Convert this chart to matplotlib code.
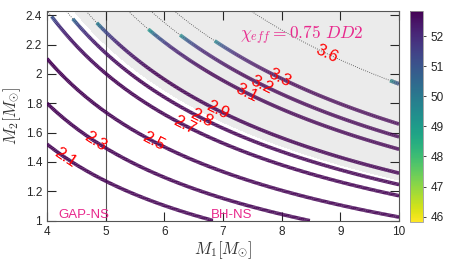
import numpy as np
import matplotlib
import matplotlib.pyplot as plt
from matplotlib.collections import LineCollection
from matplotlib.colors import Normalize

plt.rcParams["font.family"] = ["Liberation Sans", "DejaVu Sans"]
plt.rcParams["mathtext.fontset"] = "cm"

# chirp-mass levels of the curves and their labels
levels = [2.1, 2.3, 2.5, 2.7, 2.8, 2.9, 3.1, 3.2, 3.3, 3.6]
# where the coloured part of each curve stops (upper-left end), None = no stop
tip_m1 = [None, None, None, 4.08, 4.44, 4.85, 5.73, 6.27, 6.86, 9.85]
# colour value at that end
tip_val = [52.83, 52.83, 52.83, 51.0, 50.4, 49.8, 49.0, 49.3, 49.5, 49.3]
base_val = 52.83
fade_dist = [0.0, 0.12, 0.4, 1.1]
fade_frac = [0.0, 0.45, 0.8, 1.0]

# M1 position of the label on each curve
label_m1 = [4.31, 4.82, 5.81, 6.35, 6.64, 6.90, 7.41, 7.66, 7.97, 8.77]

gray_level = 2.84
vmin, vmax = 45.83, 52.83
ylim = (1.0, 2.43)


def chirp(m1, m2):
    return (m1 * m2) ** 0.6 / (m1 + m2) ** 0.2


m2f = np.linspace(0.5, 3.0, 4000)


def m2_on(L, x):
    return np.interp(L, chirp(x, m2f), m2f)


fig = plt.figure(figsize=(4.69, 2.64), dpi=100)
ax = fig.add_axes([0.1002, 0.164, 0.7505, 0.795])

g1, g2 = np.meshgrid(np.linspace(4, 10, 500), np.linspace(1, 2.45, 400))
mc = chirp(g1, g2)

ax.contourf(g1, g2, mc, levels=[gray_level, 10], colors=["#ebebeb"], zorder=0)
cs = ax.contour(g1, g2, mc, levels=levels, colors="#444444",
                linestyles=":", linewidths=0.6, zorder=1)

ax.axvline(5, color="#555555", lw=0.8, zorder=1.5)

norm = Normalize(vmin, vmax)
cmap = plt.get_cmap("viridis_r")

for L, t, tv in zip(levels, tip_m1, tip_val):
    start = 4.0 if t is None else t
    m1s = np.linspace(start, 10, 400)
    m2s = np.array([m2_on(L, x) for x in m1s])
    keep = (m2s >= 1.0) & (m2s <= ylim[1])
    m1s, m2s = m1s[keep], m2s[keep]
    s = np.concatenate([[0], np.cumsum(np.hypot(np.diff(m1s), np.diff(m2s)))])
    vals = tv + (base_val - tv) * np.interp(s, fade_dist, fade_frac)
    pts = np.column_stack([m1s, m2s]).reshape(-1, 1, 2)
    segs = np.concatenate([pts[:-1], pts[1:]], axis=1)
    lc = LineCollection(segs, cmap=cmap, norm=norm, linewidths=2.6,
                        capstyle="butt", zorder=3)
    lc.set_array(0.5 * (vals[:-1] + vals[1:]))
    ax.add_collection(lc)

label_pos = [(x, m2_on(L, x)) for L, x in zip(levels, label_m1)]
lbls = ax.clabel(cs, levels, inline=False, fmt="%.1f", colors="red",
                 fontsize=12, manual=label_pos)
for tx in lbls:
    tx.set_zorder(5)

mag = "#e8288c"
ax.text(4.2, 1.02, "GAP-NS", color=mag, fontsize=9.5, zorder=6)
ax.text(6.8, 1.02, "BH-NS", color=mag, fontsize=9.5, zorder=6)
ax.text(7.29, 2.26, r"$\chi_{eff}=0.75\ DD2$", color=mag, fontsize=12.5,
        va="center", zorder=6)

ax.set_xlim(4, 10)
ax.set_ylim(*ylim)
ax.set_xticks(np.arange(4, 11, 1))
ax.set_yticks([1, 1.2, 1.4, 1.6, 1.8, 2, 2.2, 2.4])
ax.set_yticklabels(["1", "1.2", "1.4", "1.6", "1.8", "2", "2.2", "2.4"])
ax.tick_params(direction="in", length=6.5, width=0.8, colors="#262626",
               labelsize=8.5, top=True, right=True)
for sp in ax.spines.values():
    sp.set_color("#555555")
    sp.set_linewidth(0.8)
ax.set_xlabel(r"$M_1[M_{\odot}]$", fontsize=12, color="#333333", labelpad=1)
ax.set_ylabel(r"$M_2[M_{\odot}]$", fontsize=12, color="#333333", labelpad=2)

cax = fig.add_axes([0.874, 0.160, 0.027, 0.798])
sm = matplotlib.cm.ScalarMappable(norm=norm, cmap=cmap)
cb = fig.colorbar(sm, cax=cax, ticks=np.arange(46, 53))
cb.outline.set_edgecolor("#999999")
cb.outline.set_linewidth(0.6)
cax.tick_params(labelsize=8.5, length=2, width=0.6, colors="#262626")

fig.savefig("out.png", dpi=100)
